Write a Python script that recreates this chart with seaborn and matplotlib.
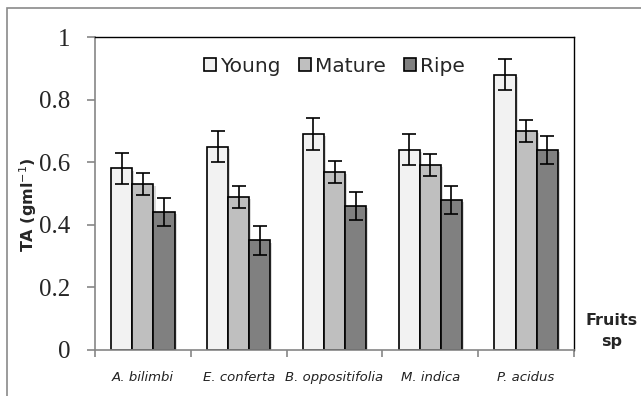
import pandas as pd
import numpy as np
import matplotlib
matplotlib.use("Agg")
import matplotlib.pyplot as plt
import matplotlib.patheffects as pe
import seaborn as sns
from matplotlib.patches import Rectangle

# Data
species = ["A. bilimbi", "E. conferta", "B. oppositifolia", "M. indica", "P. acidus"]
stages = ["Young", "Mature", "Ripe"]
young = [0.58, 0.65, 0.69, 0.64, 0.88]
mature = [0.53, 0.49, 0.57, 0.59, 0.70]
ripe = [0.44, 0.35, 0.46, 0.48, 0.64]
young_err = [0.05, 0.05, 0.05, 0.05, 0.05]
mature_err = [0.035, 0.035, 0.035, 0.035, 0.035]
ripe_err = [0.045, 0.045, 0.045, 0.045, 0.045]
colors = ["#f2f2f2", "#bfbfbf", "#808080"]

df = pd.DataFrame({
    "species": species * 3,
    "stage": [s for s in stages for _ in species],
    "TA": young + mature + ripe,
    "err": young_err + mature_err + ripe_err,
})

sns.set_theme(style="white")
plt.rcParams["font.family"] = ["DejaVu Sans"]

fig = plt.figure(figsize=(6.41, 3.96), dpi=100)
ax = fig.add_axes([95 / 641, 1 - 350 / 396, (574 - 95) / 641, (350 - 37) / 396])

sns.barplot(data=df, x="species", y="TA", hue="stage", order=species, hue_order=stages,
            palette=colors, errorbar=None, width=0.66, edgecolor="black", linewidth=1.2,
            saturation=1, ax=ax)

# soft shadow behind the bars, like the original
for container in ax.containers:
    for p in container.patches:
        p.set_path_effects([pe.SimplePatchShadow(offset=(1.5, -1.5), shadow_rgbFace="#999999",
                                                 alpha=0.35), pe.Normal()])

# error bars on each bar
for container, stage in zip(ax.containers, stages):
    sub = df[df["stage"] == stage].set_index("species").loc[species]
    xs = [p.get_x() + p.get_width() / 2 for p in container.patches]
    ax.errorbar(xs, sub["TA"], yerr=sub["err"], fmt="none", ecolor="black",
                elinewidth=1.2, capsize=5, capthick=1.2)

ax.set_ylim(0, 1)
ax.set_xlim(-0.5, len(species) - 0.5)
ax.set_yticks([0, 0.2, 0.4, 0.6, 0.8, 1])
ax.set_yticklabels(["0", "0.2", "0.4", "0.6", "0.8", "1"],
                   family=["Liberation Serif", "DejaVu Serif"], fontsize=18)
ax.tick_params(axis="y", direction="out", length=6, width=1.2, color="#868686", pad=12, left=True)
ax.set_xticks(range(len(species)))
ax.set_xticklabels(species, style="italic", fontsize=9.5, color="#222222")
ax.tick_params(axis="x", which="major", length=0, pad=15)
ax.set_xticks(np.arange(-0.5, len(species)), minor=True)
ax.tick_params(axis="x", which="minor", direction="out", length=5, width=1.2, color="#868686", bottom=True)
ax.set_xlabel("")
ax.set_ylabel("")

for side in ["left", "bottom"]:
    ax.spines[side].set_color("#868686")
    ax.spines[side].set_linewidth(1.2)
for side in ["top", "right"]:
    ax.spines[side].set_color("black")
    ax.spines[side].set_linewidth(1.0)

leg = ax.legend(loc="upper center", bbox_to_anchor=(0.5, 0.995), ncol=3, frameon=False,
                fontsize=14.5, handlelength=0.6, handleheight=0.6, handletextpad=0.2,
                columnspacing=0.9)

fig.text(28 / 641, 1 - 205 / 396, "TA (gml$^{-1}$)", rotation=90, fontsize=11.5,
         fontweight="bold", ha="center", va="center")
fig.text(612 / 641, 1 - 331 / 396, "Fruits\nsp", fontsize=11.5, fontweight="bold",
         ha="center", va="center", linespacing=1.5)

# outer border of the original chart area
fig.patches.append(Rectangle((7 / 641, -0.1), 1.2, 1.1 - 8 / 396,
                             transform=fig.transFigure, fill=False, edgecolor="#8a8a8a",
                             linewidth=1.2))

fig.savefig("out.png", dpi=100)
